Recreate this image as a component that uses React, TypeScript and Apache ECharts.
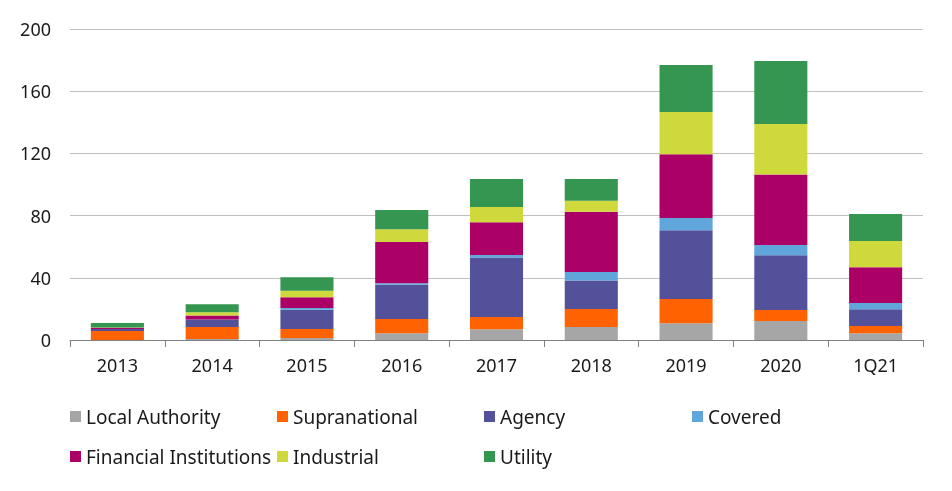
import React, { useEffect, useRef } from "react";
import * as echarts from "echarts";

const categories = ["2013", "2014", "2015", "2016", "2017", "2018", "2019", "2020", "1Q21"];
const localAuthority = [0, 0.6, 1.3, 4.3, 6.9, 8.4, 10.7, 12.2, 4.3];
const supranational = [5.8, 7.7, 5.8, 9.2, 7.9, 11.6, 15.6, 7.1, 4.7];
const agency = [1.2, 4.9, 12.4, 22.1, 38.2, 18.2, 44.2, 35.2, 10.7];
const covered = [0, 0, 1.1, 0.9, 1.7, 5.6, 7.9, 6.6, 4.1];
const financialInstitutions = [0.8, 2.6, 6.9, 26.6, 21.0, 38.6, 41.0, 45.4, 23.0];
const industrial = [0.2, 2.1, 4.1, 8.1, 9.9, 7.1, 27.2, 32.4, 16.9];
const utility = [3.0, 5.1, 8.8, 12.4, 18.0, 14.1, 30.2, 40.5, 17.4];
const yTicks = [0, 40, 80, 120, 160, 200];

const seriesDefs = [
  { name: "Local Authority", data: localAuthority, color: "#A6A6A6" },
  { name: "Supranational", data: supranational, color: "#FF6200" },
  { name: "Agency", data: agency, color: "#525199" },
  { name: "Covered", data: covered, color: "#60A6DA" },
  { name: "Financial Institutions", data: financialInstitutions, color: "#AB0066" },
  { name: "Industrial", data: industrial, color: "#D0D93C" },
  { name: "Utility", data: utility, color: "#349651" },
];

const legendPos = [
  { left: 70, top: 407 },
  { left: 277, top: 407 },
  { left: 484, top: 407 },
  { left: 692, top: 407 },
  { left: 70, top: 447 },
  { left: 277, top: 447 },
  { left: 484, top: 447 },
];

const FONT = "'Noto Sans', 'Open Sans', sans-serif";

export default function App() {
  const ref = useRef<HTMLDivElement>(null);
  useEffect(() => {
    if (!ref.current) return;
    const chart = echarts.init(ref.current, null, { renderer: "svg" });
    chart.setOption({
      animation: false,
      grid: { left: 70, right: 29, top: 29, bottom: 151, containLabel: false },
      legend: seriesDefs.map((s, i) => ({
        data: [s.name],
        left: legendPos[i].left,
        top: legendPos[i].top,
        padding: 0,
        icon: "rect",
        itemWidth: 11,
        itemHeight: 11,
        selectedMode: false,
        textStyle: { fontSize: 19, color: "#1a1a1a", fontFamily: FONT },
      })),
      xAxis: {
        type: "category",
        data: categories,
        axisLine: { lineStyle: { color: "#808080", width: 1 } },
        axisTick: { show: true, length: 7, alignWithLabel: false, lineStyle: { color: "#808080" } },
        axisLabel: { fontSize: 18, color: "#1a1a1a", fontFamily: FONT, margin: 16 },
      },
      yAxis: {
        type: "value",
        min: yTicks[0],
        max: yTicks[yTicks.length - 1],
        interval: 40,
        axisLine: { show: false },
        axisTick: { show: false },
        splitLine: { lineStyle: { color: "#BFBFBF", width: 1 } },
        axisLabel: { fontSize: 18, color: "#1a1a1a", fontFamily: FONT, margin: 19 },
      },
      series: seriesDefs.map((s) => ({
        name: s.name,
        type: "bar",
        stack: "total",
        data: s.data,
        barWidth: "56%",
        itemStyle: { color: s.color },
      })),
    });
    return () => chart.dispose();
  }, []);
  return (
    <div
      ref={ref}
      style={{ position: "fixed", left: 0, top: 0, width: 952, height: 491 }}
    />
  );
}
